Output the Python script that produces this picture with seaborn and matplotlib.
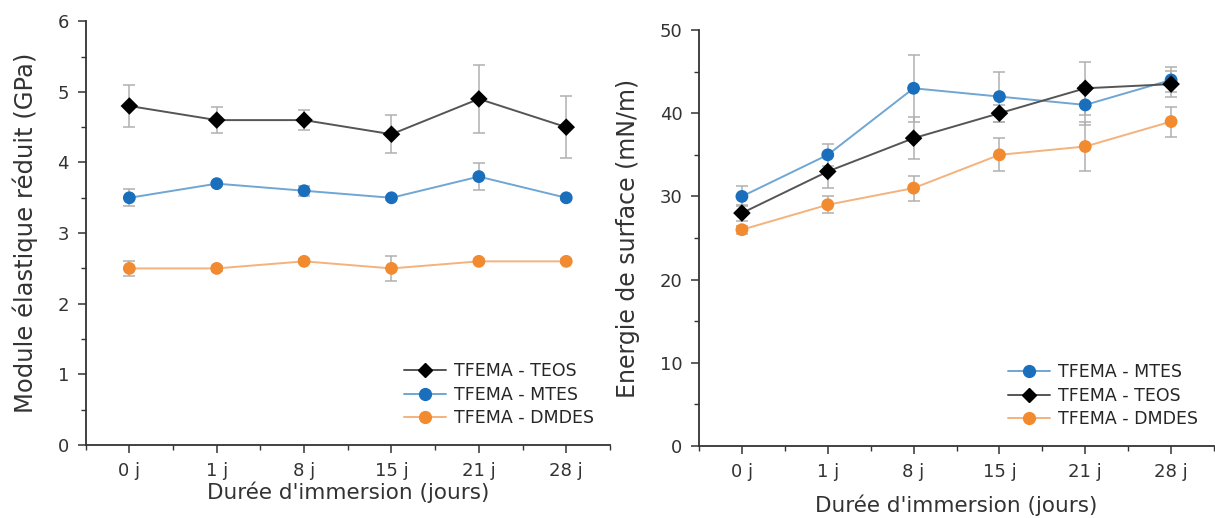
import numpy as np
import pandas as pd
import matplotlib
matplotlib.use("Agg")
import matplotlib.pyplot as plt
from matplotlib.lines import Line2D
from matplotlib.ticker import MultipleLocator, AutoMinorLocator
import seaborn as sns

days = ["0 j", "1 j", "8 j", "15 j", "21 j", "28 j"]

# Left panel: Module élastique réduit (GPa)
mod_teos = [4.8, 4.6, 4.6, 4.4, 4.9, 4.5]
mod_teos_err = [0.30, 0.18, 0.14, 0.27, 0.48, 0.44]
mod_mtes = [3.5, 3.7, 3.6, 3.5, 3.8, 3.5]
mod_mtes_err = [0.12, 0.03, 0.07, 0.03, 0.19, 0.03]
mod_dmdes = [2.5, 2.5, 2.6, 2.5, 2.6, 2.6]
mod_dmdes_err = [0.11, 0.03, 0.03, 0.18, 0.03, 0.03]

# Right panel: Energie de surface (mN/m)
en_mtes = [30, 35, 43, 42, 41, 44]
en_mtes_err = [1.2, 1.3, 4.0, 3.0, 2.4, 1.5]
en_teos = [28, 33, 37, 40, 43, 43.5]
en_teos_err = [1.0, 2.0, 2.5, 1.0, 3.2, 1.6]
en_dmdes = [26, 29, 31, 35, 36, 39]
en_dmdes_err = [0.5, 1.0, 1.5, 2.0, 3.0, 1.8]

names = {"TEOS": "TFEMA - TEOS", "MTES": "TFEMA - MTES", "DMDES": "TFEMA - DMDES"}

sns.set_theme(style="ticks")
plt.rcParams["font.family"] = ["DejaVu Sans"]

styles = {
    "TEOS": dict(line="#555555", mk="#000000", marker="D", ms=80),
    "MTES": dict(line="#6fa6d4", mk="#1a6fbd", marker="o", ms=85),
    "DMDES": dict(line="#f4b27c", mk="#f28a30", marker="o", ms=85),
}

fig = plt.figure(figsize=(12.15, 5.18), dpi=100)
ax1 = fig.add_axes([0.0705, 0.141, 0.4315, 0.818])
ax2 = fig.add_axes([0.5753, 0.139, 0.4239, 0.803])


def draw(ax, series, order):
    for key in order:
        vals, errs = series[key]
        st = styles[key]
        df = pd.DataFrame({"day": days, "val": vals})
        ax.errorbar(days, vals, yerr=errs, fmt="none", ecolor="#b0b0b0",
                    elinewidth=1.1, capsize=4, capthick=1.1, zorder=1)
        sns.lineplot(data=df, x="day", y="val", ax=ax, color=st["line"],
                     lw=1.4, zorder=2, sort=False)
        sns.scatterplot(data=df, x="day", y="val", ax=ax, color=st["mk"],
                        marker=st["marker"], s=st["ms"], edgecolor="none",
                        zorder=3)
    handles = [Line2D([0], [0], color=styles[k]["line"], lw=1.4,
                      marker=styles[k]["marker"],
                      markersize=8.5 if styles[k]["marker"] == "o" else 7.5,
                      markerfacecolor=styles[k]["mk"], markeredgecolor=styles[k]["mk"])
               for k in order]
    ax.legend(handles, [names[k] for k in order], loc="lower right",
              frameon=False, fontsize=12.5, handlelength=2.4,
              labelspacing=0.32, handletextpad=0.5,
              bbox_to_anchor=(1.0, 0.005))


draw(ax1, {"TEOS": (mod_teos, mod_teos_err), "MTES": (mod_mtes, mod_mtes_err),
           "DMDES": (mod_dmdes, mod_dmdes_err)}, ["TEOS", "MTES", "DMDES"])
draw(ax2, {"MTES": (en_mtes, en_mtes_err), "TEOS": (en_teos, en_teos_err),
           "DMDES": (en_dmdes, en_dmdes_err)}, ["MTES", "TEOS", "DMDES"])

for ax, ylim, major, ylabel, ylfs, xpad in [(ax1, (0, 6), 1, "Module élastique réduit (GPa)", 17.5, 1),
                                            (ax2, (0, 50), 10, "Energie de surface (mN/m)", 17, 10)]:
    ax.set_xlim(-0.5, 5.5)
    ax.set_ylim(*ylim)
    ax.yaxis.set_major_locator(MultipleLocator(major))
    ax.yaxis.set_minor_locator(AutoMinorLocator(2))
    ax.xaxis.set_minor_locator(MultipleLocator(0.5))
    ax.set_xticks(range(len(days)))
    ax.set_xticklabels(days)
    ax.set_xlabel("Durée d'immersion (jours)", fontsize=15.5, color="#333333", labelpad=xpad)
    ax.set_ylabel(ylabel, fontsize=ylfs, color="#333333", labelpad=14)
    ax.tick_params(axis="both", which="major", direction="out", length=6, width=1.1,
                   labelsize=13, colors="#333333", pad=6)
    ax.tick_params(axis="both", which="minor", direction="out", length=3.5, width=1.0,
                   colors="#333333")
    for s in ["top", "right"]:
        ax.spines[s].set_visible(False)
    for s in ["left", "bottom"]:
        ax.spines[s].set_color("#333333")
        ax.spines[s].set_linewidth(1.3)

fig.savefig("out.png", dpi=100)
